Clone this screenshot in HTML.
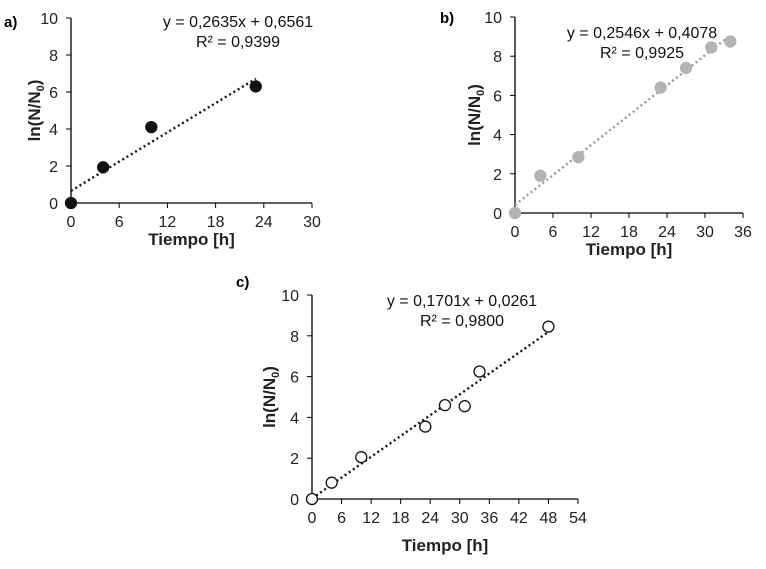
<!DOCTYPE html>
<html><head><meta charset="utf-8"><style>
body{margin:0;background:#fff;width:766px;height:564px;overflow:hidden}
svg{font-family:"Liberation Sans",Arial,sans-serif}
</style></head><body>
<svg id="s" width="766" height="564"></svg>
<script>
const aX=[0,4,10,23], aY=[0,1.93,4.1,6.3];
const bX=[0,4,10,23,27,31,34], bY=[0,1.9,2.85,6.4,7.4,8.45,8.75];
const cX=[0,4,10,23,27,31,34,48], cY=[0,0.8,2.05,3.55,4.6,4.55,6.25,8.45];
const aTicks=[0,6,12,18,24,30], bTicks=[0,6,12,18,24,30,36], cTicks=[0,6,12,18,24,30,36,42,48,54];
const yTicks=[0,2,4,6,8,10];
const aFit=[0.2635,0.6561,0,23], bFit=[0.2546,0.4078,0,34], cFit=[0.1701,0.0261,0,48];
const aEq=["y = 0,2635x + 0,6561","R² = 0,9399"], bEq=["y = 0,2546x + 0,4078","R² = 0,9925"], cEq=["y = 0,1701x + 0,0261","R² = 0,9800"];
const NS="http://www.w3.org/2000/svg", svg=document.getElementById('s');
function el(t,a,p){const e=document.createElementNS(NS,t);for(const k in a)e.setAttribute(k,a[k]);(p||svg).appendChild(e);return e;}
function panel(id,cfg){
  const g=el('g',{});
  
  
  const {x0,x1,y0,y1,xmax,xt,xs,ys,fit,eq,eqx,eqy,lab,labx,laby,ytx,xty,style}=cfg;
  const sx=v=>x0+(x1-x0)*v/xmax, sy=v=>y0+(y1-y0)*v/10;
  const ax=el('line',{x1:x0,y1:y0,x2:x1,y2:y0,stroke:'#000','stroke-width':1.3},g);
  
  const ay=el('line',{x1:x0,y1:y0,x2:x0,y2:y1,stroke:'#000','stroke-width':1.3},g);
  
  xt.forEach(v=>{el('line',{x1:sx(v),y1:y0,x2:sx(v),y2:y0+5,stroke:'#000'},g);
    const t=el('text',{x:sx(v),y:y0+24,'text-anchor':'middle','font-size':16,fill:'#222'},g);t.textContent=v;
    });
  yTicks.forEach(v=>{el('line',{x1:x0-5,y1:sy(v),x2:x0,y2:sy(v),stroke:'#000'},g);
    const t=el('text',{x:x0-13,y:sy(v)+6,'text-anchor':'end','font-size':16,fill:'#222'},g);t.textContent=v;
    });
  const fl=el('line',{x1:sx(fit[2]),y1:sy(fit[1]+fit[0]*fit[2]),x2:sx(fit[3]),y2:sy(fit[1]+fit[0]*fit[3]),stroke:style.line,'stroke-width':2.4,'stroke-dasharray':'2 3'},g);
  
  xs.forEach((v,i)=>{const c=el('circle',{cx:sx(v),cy:sy(ys[i]),r:5.5,fill:style.fill,stroke:style.stroke,'stroke-width':1.3},g);
    });
  eq.forEach((s,i)=>{const t=el('text',{x:eqx,y:eqy+i*20,'text-anchor':'middle','font-size':16,fill:'#111'},g);t.textContent=s;
    });
  const l=el('text',{x:labx,y:laby,'font-size':15,'font-weight':'bold'},g);l.textContent=lab;
  
  const xtl=el('text',{x:(x0+x1)/2,y:xty,'text-anchor':'middle','font-size':17,'font-weight':'bold',fill:'#222'},g);xtl.textContent='Tiempo [h]';
  
  const yy=(y0+y1)/2;
  const ytl=el('text',{x:ytx,y:yy,'text-anchor':'middle','font-size':17,'font-weight':'bold',fill:'#222',transform:`rotate(-90 ${ytx} ${yy})`},g);
  ytl.innerHTML='ln(N/N<tspan font-size="11" dy="4">0</tspan><tspan dy="-4">)</tspan>';
  
}
panel('a',{x0:71,x1:312,y0:203,y1:18,xmax:30,xt:aTicks,xs:aX,ys:aY,fit:aFit,eq:aEq,eqx:238,eqy:27,lab:'a)',labx:4,laby:27,ytx:40,xty:245,style:{fill:'#111',stroke:'#111',line:'#111'}});
panel('b',{x0:515,x1:743,y0:213,y1:17,xmax:36,xt:bTicks,xs:bX,ys:bY,fit:bFit,eq:bEq,eqx:642,eqy:38,lab:'b)',labx:440,laby:23,ytx:480,xty:255,style:{fill:'#b3b3b3',stroke:'#b3b3b3',line:'#999'}});
panel('c',{x0:312,x1:578,y0:499,y1:295,xmax:54,xt:cTicks,xs:cX,ys:cY,fit:cFit,eq:cEq,eqx:462,eqy:306,lab:'c)',labx:236,laby:287,ytx:275,xty:551,style:{fill:'#fff',stroke:'#111',line:'#111'}});
</script>
</body></html>
